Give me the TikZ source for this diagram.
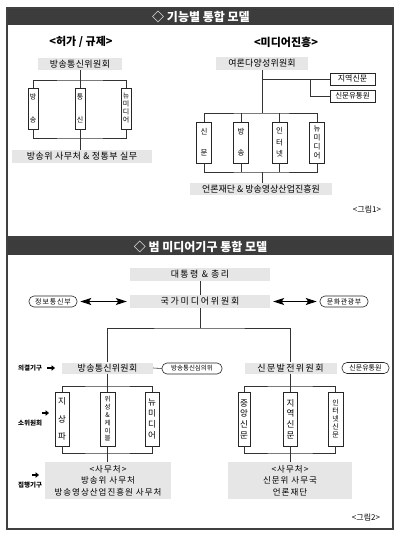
\documentclass[tikz,border=0pt]{standalone}
\usepackage{fontspec}
\setmainfont{Noto Sans CJK KR}
\usetikzlibrary{arrows.meta}
\newcommand{\ls}[1]{\addfontfeature{LetterSpace=#1}}
\newcommand{\fs}[2]{\fontsize{#1}{#2}\selectfont}
\definecolor{hdrgray}{HTML}{3C3C3C}
\definecolor{boxgray}{HTML}{E6E6E6}
\begin{document}
\begin{tikzpicture}[x=1pt,y=-1pt,
  line/.style={draw=black!80, line width=0.6pt},
  gbox/.style={fill=boxgray, inner sep=0pt, minimum height=13pt, text=black, font=\fs{9}{11}},
  vbox/.style={draw=black!85, fill=white, line width=0.6pt, inner sep=0pt, align=center, text=black},
  wbox/.style={draw=black!85, fill=white, line width=0.6pt, inner sep=0pt, minimum height=12pt, text=black},
  oval/.style={draw=black!85, fill=white, line width=0.6pt, rounded corners=5pt, inner sep=0pt, minimum height=11pt, text=black},
  panel/.style={draw=black!75, line width=1.2pt},
  hdr/.style={text=white, font=\bfseries\fs{12}{14}},
  ttl/.style={text=black, font=\bfseries\fs{11}{13}},
  lbl/.style={font=\bfseries\fs{6.5}{8}, anchor=west, inner sep=0pt, text=black},
  blk/.style={-{Triangle[length=3.5pt,width=5.5pt]}, line width=1.8pt, black},
  dbl/.style={{Stealth[length=11pt,width=7pt,inset=2.5pt]}-{Stealth[length=11pt,width=7pt,inset=2.5pt]}, line width=0.8pt, black, shorten <=3pt, shorten >=3pt},
  fig/.style={font=\fs{8}{10}, text=black}
]
\useasboundingbox (0,0) rectangle (400,536);

% ---------------- panel 1 ----------------
\fill[hdrgray] (7,8) rectangle (393,25);
\draw[panel] (7,8) rectangle (393,237);
\node[hdr] (h1) at (201,16.5) {◇ 기능별 통합 모델};
\node[ttl] (t1) at (81,42) {<허가 / 규제>};
\node[ttl] (t2) at (286,42) {<미디어진흥>};

\node[gbox, minimum width=84pt, minimum height=12pt, font=\fs{9}{11}\ls{4}] (bt1) at (80,64) {방송통신위원회};
\node[vbox, minimum width=10pt, minimum height=41pt, font=\fs{7}{23}] (v1) at (33,108.5) {방\\송};
\node[vbox, minimum width=10pt, minimum height=41pt, font=\fs{7}{23}] (v2) at (80,108.5) {통\\신};
\node[vbox, minimum width=10pt, minimum height=41pt, font=\fs{7}{8}] (v3) at (126,108.5) {뉴\\미\\디\\어};
\node[gbox, minimum width=140pt, minimum height=13pt, font=\fs{9}{11}\ls{5}] (bb1) at (82,156.5) {방송위 사무처 \& 정통부 실무};

\coordinate (j1) at (80,80);
\coordinate (j2) at (80,138);
\draw[line] (bt1.south) -- (v2.north);
\draw[line] (v1.north) |- (j1) -| (v3.north);
\draw[line] (v1.south) |- (j2) -| (v3.south);
\draw[line] (v2.south) -- (v2.south |- bb1.north);

\node[gbox, minimum width=92pt, minimum height=13pt, font=\fs{9}{11}\ls{2}] (yd) at (262,63.5) {여론다양성위원회};
\node[wbox, minimum width=45pt, font=\fs{8}{10}] (jy) at (352.5,79) {지역신문};
\node[wbox, minimum width=45pt, font=\fs{7.5}{9}] (sy) at (352.5,96) {신문유통원};
\node[vbox, minimum width=15pt, minimum height=41pt, font=\fs{7.5}{21}] (r1) at (204,142.5) {신\\문};
\node[vbox, minimum width=15pt, minimum height=41pt, font=\fs{7.5}{21}] (r2) at (241,142.5) {방\\송};
\node[vbox, minimum width=15pt, minimum height=41pt, font=\fs{7.5}{11.5}] (r3) at (279.5,142.5) {인\\터\\넷};
\node[vbox, minimum width=15pt, minimum height=41pt, font=\fs{7.5}{9.2}] (r4) at (317,142.5) {뉴\\미\\디\\어};
\node[gbox, minimum width=142pt, minimum height=12pt, font=\fs{9}{11}] (bb2) at (261,189) {언론재단 \& 방송영상산업진흥원};
\node[fig] (f1) at (367,209) {<그림1>};

\coordinate (k1) at (262,113);
\coordinate (k2) at (310,79);
\coordinate (k3) at (262,172);
\draw[line] (yd.south) -- (k1);
\draw[line] (yd.south |- jy.west) -- (jy.west);
\draw[line] (k2) |- (sy.west);
\draw[line] (r1.north) |- (k1) -| (r4.north);
\draw[line] (r2.north) -- (r2.north |- k1);
\draw[line] (r3.north) -- (r3.north |- k1);
\draw[line] (r1.south) |- (k3) -| (r4.south);
\draw[line] (r2.south) -- (r2.south |- k3);
\draw[line] (r3.south) -- (r3.south |- k3);
\draw[line] (k3) -- (k3 |- bb2.north);

% ---------------- panel 2 ----------------
\fill[hdrgray] (7,239) rectangle (393,255);
\draw[panel] (7,239) rectangle (393,529);
\node[hdr] (h2) at (200.5,247) {◇ 범 미디어기구 통합 모델};

\node[gbox, minimum width=140pt, font=\fs{9}{11}\ls{15}] (pres) at (200,274.5) {대통령 \& 총리};
\node[gbox, minimum width=140pt, font=\fs{9}{11}\ls{20}] (nat) at (200,301.5) {국가미디어위원회};
\node[oval, minimum width=48pt, font=\fs{7}{9}\ls{12}] (mic) at (53,301.5) {정보통신부};
\node[oval, minimum width=48pt, font=\fs{7}{9}\ls{8}] (mct) at (344,301.5) {문화관광부};
\draw[line] (pres.south) -- (nat.north);
\draw[dbl] (mic.east) -- (nat.west);
\draw[dbl] (nat.east) -- (mct.west);

\node[gbox, minimum width=91pt, minimum height=11pt, font=\fs{9}{11}\ls{3}] (bc) at (107.5,368) {방송통신위원회};
\node[gbox, minimum width=92pt, minimum height=11pt, font=\fs{9}{11}\ls{15}] (np) at (290.5,368) {신문발전위원회};
\node[oval, minimum width=60pt, font=\fs{6.5}{8}] (kcsc) at (192,368.5) {방송통신심의위};
\node[oval, minimum width=47pt, font=\fs{7}{9}] (nd) at (365.5,368) {신문유통원};

\coordinate (m1) at (200,328);
\draw[line] (nat.south) -- (m1);
\draw[line] (bc.north) |- (m1) -| (np.north);
\draw[line] (bc.east) -- (kcsc.west);

\node[vbox, minimum width=14pt, minimum height=54pt, font=\fs{8.5}{17.5}] (a1) at (62,419) {지\\상\\파};
\node[vbox, minimum width=15pt, minimum height=54pt, font=\fs{6.5}{7.8}] (a2) at (107.5,419) {위\\성\\\&\\케\\이\\블};
\node[vbox, minimum width=14pt, minimum height=54pt, font=\fs{8.5}{11.3}] (a3) at (152,419) {뉴\\미\\디\\어};
\node[vbox, minimum width=12pt, minimum height=54pt, font=\fs{8.5}{10.7}] (b1) at (244,419) {중\\앙\\신\\문};
\node[vbox, minimum width=14pt, minimum height=54pt, font=\fs{8.5}{10.7}] (b2) at (290.5,419) {지\\역\\신\\문};
\node[vbox, minimum width=15pt, minimum height=54pt, font=\fs{7}{8}] (b3) at (335.5,419) {인\\터\\넷\\신\\문};

\node[gbox, align=center, minimum width=126pt, minimum height=37pt, font=\fs{8.5}{11.5}\ls{12}] (sec1) at (108,480.5) {<사무처>\\방송위 사무처\\방송영상산업진흥원 사무처};
\node[gbox, align=center, minimum width=124pt, minimum height=37pt, font=\fs{8.5}{11.5}\ls{12}] (sec2) at (290,480.5) {<사무처>\\신문위 사무국\\언론재단};

\coordinate (p1) at (107.5,386);
\coordinate (p2) at (107.5,453);
\coordinate (q1) at (290.5,386);
\coordinate (q2) at (290.5,453);
\draw[line] (bc.south) -- (a2.north);
\draw[line] (a1.north) |- (p1) -| (a3.north);
\draw[line] (a1.south) |- (p2) -| (a3.south);
\draw[line] (a2.south) -- (a2.south |- sec1.north);
\draw[line] (np.south) -- (b2.north);
\draw[line] (b1.north) |- (q1) -| (b3.north);
\draw[line] (b1.south) |- (q2) -| (b3.south);
\draw[line] (b2.south) -- (b2.south |- sec2.north);

\node[lbl] (l1) at (18,368) {의결기구};
\node[lbl] (l2) at (18,423) {소위원회};
\node[lbl] (l3) at (18,485) {집행기구};
\coordinate (e1a) at (47,368);  \coordinate (e1b) at (55,368);
\coordinate (e2a) at (42,413);  \coordinate (e2b) at (49,413);
\coordinate (e3a) at (32,475);  \coordinate (e3b) at (39,475);
\draw[blk] (e1a) -- (e1b);
\draw[blk] (e2a) -- (e2b);
\draw[blk] (e3a) -- (e3b);

\node[fig] (f2) at (366,517) {<그림2>};
\end{tikzpicture}
\end{document}
